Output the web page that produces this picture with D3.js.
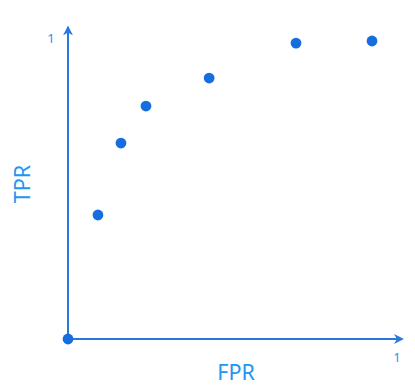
<!DOCTYPE html>
<html>
<head>
	<meta charset="utf-8">
	<title>ROC points</title>
	<script src="https://d3js.org/d3.v7.min.js"></script>
	<style>
		body { margin: 0; background: #fff; }
	</style>
</head>
<body>
	<script>
		// ROC points
		var fpr = [0, 0.091, 0.161, 0.237, 0.429, 0.693, 0.924];
		var tpr = [0, 0.412, 0.651, 0.774, 0.867, 0.983, 0.990];
		var axisTicks = ["1"];

		var width = 415, height = 391;

		var svg = d3.select("body").append("svg")
			.attr("width", width)
			.attr("height", height);

		var x = d3.scaleLinear().domain([0, 1]).range([68, 397]);
		var y = d3.scaleLinear().domain([0, 1]).range([339, 38]);

		var lineColor = "#2878e0";
		var dotColor = "#166ddf";
		var textColor = "#2196f3";

		var defs = svg.append("defs");
		defs.append("marker")
			.attr("id", "arrow")
			.attr("viewBox", "0 0 10 10")
			.attr("refX", 8)
			.attr("refY", 5)
			.attr("markerWidth", 5)
			.attr("markerHeight", 5)
			.attr("orient", "auto")
			.append("path")
			.attr("d", "M0,0 L10,5 L0,10 L3,5 Z")
			.attr("fill", lineColor);

		// axes with arrows
		svg.append("line")
			.attr("x1", x(0)).attr("y1", y(0))
			.attr("x2", x(1.015)).attr("y2", y(0))
			.attr("stroke", lineColor)
			.attr("stroke-width", 2)
			.attr("marker-end", "url(#arrow)");

		svg.append("line")
			.attr("x1", x(0)).attr("y1", y(0))
			.attr("x2", x(0)).attr("y2", y(1.035))
			.attr("stroke", lineColor)
			.attr("stroke-width", 2)
			.attr("marker-end", "url(#arrow)");

		// tick labels
		svg.append("text")
			.attr("x", x(1))
			.attr("y", y(0) + 23)
			.attr("text-anchor", "middle")
			.attr("font-family", "Noto Sans")
			.attr("font-size", 13)
			.attr("fill", textColor)
			.text(axisTicks[0]);

		svg.append("text")
			.attr("x", x(0) - 17)
			.attr("y", y(1) + 5)
			.attr("text-anchor", "middle")
			.attr("font-family", "Noto Sans")
			.attr("font-size", 13)
			.attr("fill", textColor)
			.text(axisTicks[0]);

		// axis titles
		svg.append("text")
			.attr("x", 236)
			.attr("y", 380)
			.attr("text-anchor", "middle")
			.attr("font-family", "Noto Sans")
			.attr("font-size", 21.5)
			.attr("fill", textColor)
			.text("FPR");

		svg.append("text")
			.attr("transform", "translate(30,184) rotate(-90)")
			.attr("text-anchor", "middle")
			.attr("font-family", "Noto Sans")
			.attr("font-size", 21.5)
			.attr("fill", textColor)
			.text("TPR");

		svg.selectAll(".dot")
			.data(fpr)
			.enter()
			.append("circle")
			.attr("class", "dot")
			.attr("cx", function (d) { return x(d); })
			.attr("cy", function (d, i) { return y(tpr[i]); })
			.attr("r", 5.4)
			.attr("fill", dotColor);
	</script>
</body>
</html>
